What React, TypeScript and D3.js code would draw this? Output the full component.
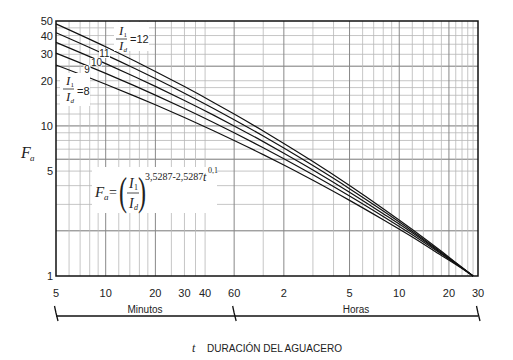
import React from "react";
import * as d3 from "d3";

// Duration (minutes) at which curves were read
const timesMin = [5, 10, 15, 20, 30, 45, 60, 90, 120, 180, 300, 480, 720, 1080, 1440, 1680];
// Fa values read for each I1/Id ratio
const fa8 = [25.44, 18.95, 15.8, 13.83, 11.38, 9.29, 8, 6.44, 5.49, 4.34, 3.19, 2.37, 1.82, 1.37, 1.12, 1.0];
const fa9 = [30.56, 22.39, 18.48, 16.04, 13.06, 10.54, 9, 7.15, 6.04, 4.72, 3.41, 2.49, 1.88, 1.4, 1.13, 1.0];
const fa10 = [36.01, 25.99, 21.25, 18.33, 14.77, 11.8, 10, 7.86, 6.58, 5.09, 3.62, 2.6, 1.94, 1.42, 1.13, 1.0];
const fa11 = [41.77, 29.74, 24.12, 20.67, 16.51, 13.06, 11, 8.56, 7.12, 5.44, 3.82, 2.71, 1.99, 1.44, 1.14, 1.0];
const fa12 = [47.82, 33.64, 27.07, 23.07, 18.28, 14.34, 12, 9.25, 7.64, 5.79, 4.01, 2.81, 2.04, 1.46, 1.14, 1.0];
const seriesList = [fa8, fa9, fa10, fa11, fa12];

const yTickLabels = [1, 5, 10, 20, 30, 40, 50];
const xMinuteLabels = [5, 10, 20, 30, 40, 60];
const xHourLabels = [2, 5, 10, 20, 30];
const yGrid = [2, 3, 4, 5, 6, 7, 8, 9, 10, 12, 14, 16, 18, 20, 25, 30, 35, 40, 45];
const yGridMajor = [2, 6, 10, 25];
const xGrid = [6, 7, 8, 9, 10, 12, 14, 16, 18, 20, 25, 30, 35, 40, 60, 90, 120, 180, 240, 300, 360, 420, 480, 540, 600, 720, 840, 960, 1080, 1200, 1320, 1440, 1560, 1680];
const xGridMajor = [10, 20, 60, 120, 300, 600, 1200];

export default function App() {
  const x = d3.scaleLog().domain([5, 1800]).range([56, 478]);
  const y = d3.scaleLog().domain([1, 50]).range([276, 21]);
  const line = d3
    .line<number>()
    .x((_, i) => x(timesMin[i]))
    .y((d) => y(d))
    .curve(d3.curveMonotoneX);

  const sans = "'Liberation Sans', Arial, sans-serif";
  const serif = "'Liberation Serif', 'Times New Roman', serif";
  const txt = "#222";

  const left = x.range()[0];
  const right = x.range()[1];
  const top = y.range()[1];
  const bottom = y.range()[0];

  const breakMark = (xx: number) => `M${xx - 1.5},306 L${xx},313 L${xx + 2},321`;

  return (
    <svg width={513} height={360} style={{ position: "absolute", left: 0, top: 0, background: "#fff" }}>
      <rect x={0} y={0} width={513} height={360} fill="#fff" />
      {/* grid */}
      {yGrid.map((v) => (
        <line key={"hy" + v} x1={left} x2={right} y1={y(v)} y2={y(v)}
          stroke={yGridMajor.includes(v) ? "#777" : "#b8b8b8"} strokeWidth={yGridMajor.includes(v) ? 1 : 0.8} />
      ))}
      {xGrid.map((v) => (
        <line key={"vx" + v} x1={x(v)} x2={x(v)} y1={top} y2={bottom}
          stroke={xGridMajor.includes(v) ? "#888" : "#b8b8b8"} strokeWidth={xGridMajor.includes(v) ? 1 : 0.8} />
      ))}
      {/* curves */}
      {seriesList.map((s, i) => (
        <path key={"c" + i} d={line(s) || ""} fill="none" stroke="#111" strokeWidth={1.2} />
      ))}
      {/* frame */}
      <rect x={left} y={top} width={right - left} height={bottom - top} fill="none" stroke="#111" strokeWidth={1.5} />

      {/* y tick labels */}
      {yTickLabels.map((v) => (
        <text key={"yl" + v} x={53} y={y(v) + 4} textAnchor="end" fontFamily={sans} fontSize={11} fill={txt}>{v}</text>
      ))}
      {/* x tick labels */}
      {xMinuteLabels.map((v) => (
        <text key={"xm" + v} x={x(v)} y={297} textAnchor="middle" fontFamily={sans} fontSize={11} fill={txt}>{v}</text>
      ))}
      {xHourLabels.map((v) => (
        <text key={"xh" + v} x={x(v * 60)} y={297} textAnchor="middle" fontFamily={sans} fontSize={11} fill={txt}>{v}</text>
      ))}

      {/* Y axis title */}
      <text x={21} y={158} fontFamily={serif} fontStyle="italic" fontSize={16} fill={txt}>F</text>
      <text x={30} y={161} fontFamily={serif} fontStyle="italic" fontSize={9} fill={txt}>a</text>

      {/* curve labels */}
      <rect x={114} y={22} width={35} height={29} fill="#fff" />
      <text x={119} y={35} fontFamily={serif} fontStyle="italic" fontSize={13} fill={txt}>I</text>
      <text x={123.5} y={37} fontFamily={serif} fontSize={7} fill={txt}>1</text>
      <line x1={116} x2={127} y1={39} y2={39} stroke={txt} strokeWidth={0.8} />
      <text x={119} y={50} fontFamily={serif} fontStyle="italic" fontSize={13} fill={txt}>I</text>
      <text x={123.5} y={52} fontFamily={serif} fontStyle="italic" fontSize={7} fill={txt}>d</text>
      <text x={130} y={43} fontFamily={sans} fontSize={11} fill={txt}>=12</text>

      <rect x={60} y={73} width={30} height={33} fill="#fff" />
      <text x={66} y={85} fontFamily={serif} fontStyle="italic" fontSize={13} fill={txt}>I</text>
      <text x={70.5} y={87} fontFamily={serif} fontSize={7} fill={txt}>1</text>
      <line x1={63} x2={74} y1={89} y2={89} stroke={txt} strokeWidth={0.8} />
      <text x={66} y={101} fontFamily={serif} fontStyle="italic" fontSize={13} fill={txt}>I</text>
      <text x={70.5} y={103} fontFamily={serif} fontStyle="italic" fontSize={7} fill={txt}>d</text>
      <text x={77} y={94.5} fontFamily={sans} fontSize={11} fill={txt}>=8</text>

      <rect x={99} y={49.5} width={11} height={8.5} fill="#fff" />
      <text x={104.5} y={57} textAnchor="middle" fontFamily={sans} fontSize={10} fill={txt}>11</text>
      <rect x={91} y={58} width={11} height={8.5} fill="#fff" />
      <text x={96.5} y={65.5} textAnchor="middle" fontFamily={sans} fontSize={10} fill={txt}>10</text>
      <rect x={83.5} y={65} width={7} height={8.5} fill="#fff" />
      <text x={87} y={72.5} textAnchor="middle" fontFamily={sans} fontSize={10} fill={txt}>9</text>

      {/* formula box */}
      <rect x={92} y={167} width={125} height={46} fill="#fff" />
      <text x={95} y={197} fontFamily={serif} fontStyle="italic" fontSize={15} fill={txt}>F</text>
      <text x={104} y={200} fontFamily={serif} fontStyle="italic" fontSize={9} fill={txt}>a</text>
      <text x={109} y={197} fontFamily={serif} fontSize={14} fill={txt}>=</text>
      <text transform="translate(119,205) scale(0.6,1)" fontFamily={serif} fontSize={40} fill={txt}>(</text>
      <text x={129} y={188} fontFamily={serif} fontStyle="italic" fontSize={14} fill={txt}>I</text>
      <text x={134} y={190} fontFamily={serif} fontSize={8} fill={txt}>1</text>
      <line x1={127} x2={139} y1={193} y2={193} stroke={txt} strokeWidth={0.8} />
      <text x={129} y={208} fontFamily={serif} fontStyle="italic" fontSize={14} fill={txt}>I</text>
      <text x={134} y={210} fontFamily={serif} fontStyle="italic" fontSize={8} fill={txt}>d</text>
      <text transform="translate(138,205) scale(0.6,1)" fontFamily={serif} fontSize={40} fill={txt}>)</text>
      <text x={145} y={180} fontFamily={serif} fontSize={10} fill={txt}>3,5287-2,5287</text>
      <text x={203} y={181} fontFamily={serif} fontStyle="italic" fontSize={12} fill={txt}>t</text>
      <text x={208} y={173} fontFamily={serif} fontSize={8} fill={txt}>0,1</text>

      {/* duration bracket */}
      <line x1={left} x2={right} y1={316} y2={316} stroke="#111" strokeWidth={1.3} />
      {[5, 60, 1800].map((v) => (
        <path key={"bm" + v} d={breakMark(x(v))} fill="none" stroke="#111" strokeWidth={1.3} />
      ))}
      <text x={145} y={313} textAnchor="middle" fontFamily={sans} fontSize={10} fill={txt}>Minutos</text>
      <text x={356} y={313} textAnchor="middle" fontFamily={sans} fontSize={10} fill={txt}>Horas</text>
      <text x={192} y={352} fontFamily={serif} fontStyle="italic" fontSize={12} fill={txt}>t</text>
      <text x={207} y={352} fontFamily={sans} fontSize={10.5} fill={txt} textLength={135} lengthAdjust="spacingAndGlyphs">DURACIÓN DEL AGUACERO</text>
    </svg>
  );
}
